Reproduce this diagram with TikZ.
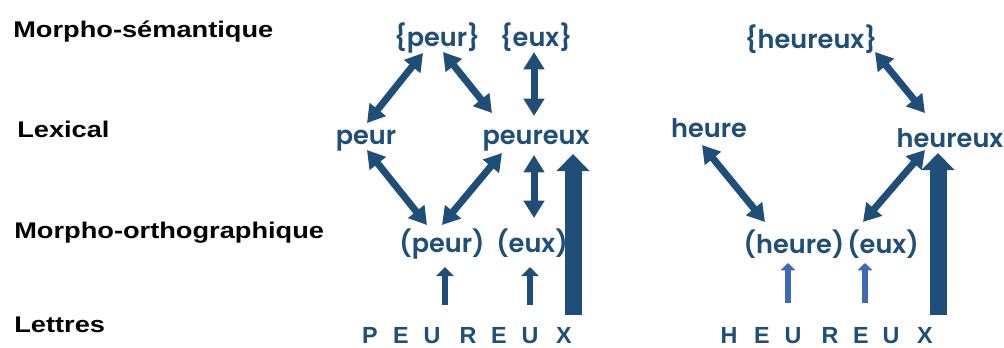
\documentclass[tikz,border=0pt]{standalone}
\usepackage{fontspec}
\setmainfont{Liberation Sans}
\newfontfamily\wordfont{Poppins}[BoldFont={Poppins SemiBold}]
\usetikzlibrary{arrows.meta,calc}

\definecolor{blu}{RGB}{31,78,121}
\definecolor{lightblu}{RGB}{63,104,181}

\tikzset{
  level/.style={anchor=base west, inner sep=0pt, xscale=1.2, transform shape,
    font=\bfseries\fontsize{17}{20}\selectfont},
  word/.style={anchor=base, inner sep=1pt, text=blu,
    font=\wordfont\bfseries\fontsize{19.2}{23}\selectfont},
  letter/.style={anchor=base, inner sep=0pt, text=blu,
    font=\bfseries\fontsize{17.5}{20}\selectfont},
  dbl/.style={draw=blu, line width=5.25pt, >={Triangle[width=15pt,length=13pt]}, <->},
  smallup/.style={draw=blu, line width=5pt, -{Triangle[width=12.75pt,length=6.75pt]}},
  thinup/.style={draw=lightblu, line width=4pt, -{Triangle[width=11pt,length=5.5pt]}},
  bigup/.style={draw=blu, line width=12.75pt, -{Triangle[width=24pt,length=12.75pt]}}
}

\begin{document}
\begin{tikzpicture}[x=0.75pt, y=-0.75pt]
    \useasboundingbox (0,0) rectangle (1004,347);

    % levels
    \node[level] (ms) at (13,37) {Morpho-sémantique};
    \node[level] (lx) at (17,137) {Lexical};
    \node[level] (mo) at (14,238) {Morpho-orthographique};
    \node[level] (lt) at (14,332) {Lettres};

    % peureux
    \node[word] (spe) at (437,46) {\{peur\}};
    \node[word] (seux) at (536,46) {\{eux\}};
    \node[word] (lpeur) at (366,144) {peur};
    \node[word] (lpeureux) at (536,144) {peureux};
    \node[word] (opeur) at (442,252) {(peur)};
    \node[word] (oeux) at (532,252) {(eux)};
    \foreach \ch/\xx [count=\i] in {P/370,E/401,U/432,R/468,E/499,U/530,X/564}
      \node[letter] (p\i) at (\xx,343) {\ch};

    \draw[dbl] ($(spe.base)+(-14,7)$) -- ($(lpeur.base)+(1,-21)$);
    \draw[dbl] ($(spe.base)+(6,6)$) -- ($(lpeureux.base)+(-44,-31)$);
    \draw[dbl] ($(seux.base)+(-2,6)$) -- ($(lpeureux.base)+(-2,-28)$);
    \draw[dbl] ($(lpeur.base)+(1,6)$) -- ($(opeur.base)+(-15,-27)$);
    \draw[dbl] ($(lpeureux.base)+(-34,9)$) -- ($(opeur.base)+(0,-27)$);
    \draw[dbl] ($(lpeureux.base)+(-2,11)$) -- ($(oeux.base)+(2,-34)$);
    \draw[smallup] ($(opeur.base)+(3,53)$) -- ($(opeur.base)+(3,15)$);
    \draw[smallup] ($(oeux.base)+(-2,53)$) -- ($(oeux.base)+(-2,15)$);
    \draw[bigup] ($(lpeureux.base)+(37,171)$) -- ($(lpeureux.base)+(37,10)$);

    % heureux
    \node[word] (sheureux) at (811,48) {\{heureux\}};
    \node[word] (lheure) at (709,137) {heure};
    \node[word] (lheureux) at (950,147) {heureux};
    \node[word] (oheure) at (794,253) {(heure)};
    \node[word] (oeuxb) at (883,253) {(eux)};
    \foreach \ch/\xx [count=\i] in {H/729,E/762,U/793,R/830,E/861,U/891,X/925}
      \node[letter] (h\i) at (\xx,343) {\ch};

    \draw[dbl] ($(sheureux.base)+(64,4)$) -- ($(lheureux.base)+(-25,-34)$);
    \draw[dbl] ($(lheure.base)+(-7,8)$) -- ($(oheure.base)+(-29,-31)$);
    \draw[dbl] ($(lheureux.base)+(-25,3)$) -- ($(oeuxb.base)+(-20,-31)$);
    \draw[thinup] ($(oheure.base)+(-6,50)$) -- ($(oheure.base)+(-6,10)$);
    \draw[thinup] ($(oeuxb.base)+(-18,50)$) -- ($(oeuxb.base)+(-18,10)$);
    \draw[bigup] ($(lheureux.base)+(-12,168)$) -- ($(lheureux.base)+(-12,6)$);

  \end{tikzpicture}
\end{document}
